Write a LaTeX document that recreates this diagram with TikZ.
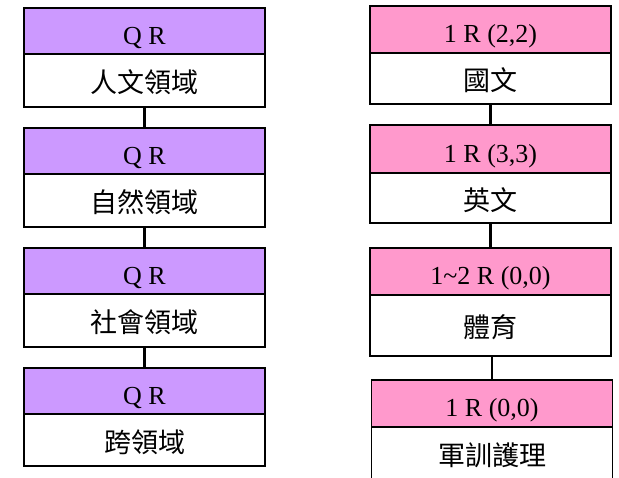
\documentclass[tikz,border=0pt]{standalone}
\usepackage{fontspec}
\setmainfont{Liberation Serif}
\newfontfamily\cjk{Noto Sans CJK TC}
\definecolor{lav}{HTML}{CC99FF}
\definecolor{pnk}{HTML}{FF99CC}
\begin{document}
\begin{tikzpicture}[x=1pt,y=-1pt,
  band/.style={draw=black, line width=1.8pt, minimum width=241pt, inner sep=0pt, anchor=north},
  lband/.style={band, fill=lav, font=\fontsize{26}{26}\selectfont, text height=27pt, text depth=0pt},
  pband/.style={band, fill=pnk, font=\fontsize{26}{26}\selectfont, text height=27pt, text depth=0pt},
  wband/.style={band, fill=white, font=\cjk\fontsize{27}{27}\selectfont, text height=25pt, text depth=0pt},
  conn/.style={draw=black, line width=2.4pt}]
\useasboundingbox (0,0) rectangle (619,477);
% left column
\node[lband, minimum height=46pt] (l1a) at (144.5,7) {Q R};
\node[wband, minimum height=53pt] (l1b) at (144.5,53) {人文領域};
\node[lband, minimum height=46pt] (l2a) at (144.5,127) {Q R};
\node[wband, minimum height=53pt] (l2b) at (144.5,173) {自然領域};
\node[lband, minimum height=46pt] (l3a) at (144.5,247) {Q R};
\node[wband, minimum height=53pt] (l3b) at (144.5,293) {社會領域};
\node[lband, minimum height=46pt] (l4a) at (144.5,367) {Q R};
\node[wband, minimum height=52pt] (l4b) at (144.5,413) {跨領域};
\draw[conn] (l1b.south) -- (l2a.north);
\draw[conn] (l2b.south) -- (l3a.north);
\draw[conn] (l3b.south) -- (l4a.north);
% right column
\node[pband, minimum height=47pt] (r1a) at (490.5,5) {1 R (2,2)};
\node[wband, minimum height=51pt] (r1b) at (490.5,52) {國文};
\node[pband, minimum height=48pt] (r2a) at (490.5,124) {1 R (3,3)};
\node[wband, minimum height=50pt] (r2b) at (490.5,172) {英文};
\node[pband, minimum height=47pt] (r3a) at (490.5,247) {1\char`~2 R (0,0)};
\node[wband, minimum height=61pt] (r3b) at (490.5,294) {體育};
\node[pband, minimum height=47pt] (r4a) at (492,379) {1 R (0,0)};
\node[wband, minimum height=56pt] (r4b) at (492,426) {};
\node[font=\cjk\fontsize{27}{27}\selectfont, text height=25pt, text depth=0pt, inner sep=0pt] (r4t) at (492,453) {軍訓護理};
\draw[conn] (r1b.south) -- (r2a.north);
\draw[conn] (r2b.south) -- (r3a.north);
\draw[conn] (r4a.north |- r3b.south) -- (r4a.north);
\end{tikzpicture}
\end{document}
